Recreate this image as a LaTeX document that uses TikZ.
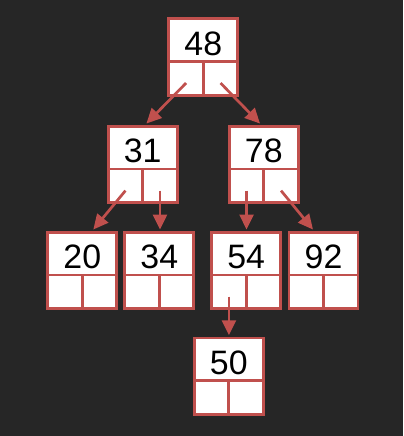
\documentclass[tikz,border=0pt]{standalone}
\usepackage{fontspec}
\setmainfont{Liberation Sans}
\usetikzlibrary{calc,arrows.meta}
\definecolor{bg}{HTML}{262626}
\definecolor{rim}{HTML}{C0504D}
\tikzset{
  bstbox/.style={draw=rim, fill=white, line width=2.7bp, minimum width=69bp, minimum height=76.5bp, inner sep=0pt},
  rimline/.style={draw=rim, line width=2.7bp},
  numlbl/.style={inner sep=0pt, font=\fontsize{34}{36}\selectfont, text=black},
  link/.style={draw=rim, line width=2.7bp, -{Triangle[length=15bp,width=14bp]}}
}
\newcommand\bstnode[4]{%
  \node[bstbox] (#1) at (#2,#3+38.25) {};
  \node[numlbl, anchor=base] (#1-t) at ($(#1.north)+(0,38)$) {#4};
  \draw[rimline] ($(#1.north west)+(0,44)$) -- ($(#1.north east)+(0,44)$);
  \draw[rimline] ($(#1.north)+(0,44)$) -- (#1.south);
  \coordinate (#1-l) at ($(#1.south)+(-17.25,-13.5)$);
  \coordinate (#1-r) at ($(#1.south)+(17.25,-13.5)$);
}
\begin{document}
\begin{tikzpicture}[x=1bp,y=-1bp]
  \fill[bg] (0,0) rectangle (403,436);
  \useasboundingbox (0,0) rectangle (403,436);
  \bstnode{n48}{203.3}{18.7}{48}
  \bstnode{n31}{142.7}{126.3}{31}
  \bstnode{n78}{263.8}{126.3}{78}
  \bstnode{n20}{82.3}{232.3}{20}
  \bstnode{n34}{159.3}{232.3}{34}
  \bstnode{n54}{246.2}{232.3}{54}
  \bstnode{n92}{323.5}{232.3}{92}
  \bstnode{n50}{228.8}{338}{50}
  \draw[link] (n48-l) -- ($(n31.north)+(3.7,-1.4)$);
  \draw[link] (n48-r) -- ($(n78.north)+(-3.8,-1.4)$);
  \draw[link] (n31-l) -- ($(n20.north)+(11,-1.4)$);
  \draw[link] (n31-r) -- ($(n31-r |- n34.north)+(0,-1.4)$);
  \draw[link] (n78-l) -- ($(n78-l |- n54.north)+(0,-1.4)$);
  \draw[link] (n78-r) -- ($(n92.north)+(-10.5,-1.4)$);
  \draw[link] (n54-l) -- ($(n54-l |- n50.north)+(0,-1.4)$);
\end{tikzpicture}
\end{document}
